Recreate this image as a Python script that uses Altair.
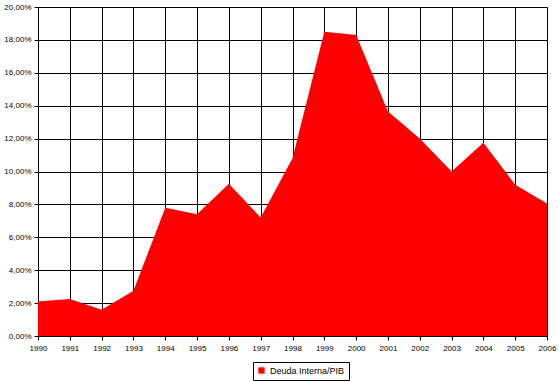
import altair as alt
import pandas as pd

years = list(range(1990, 2007))
values = [2.1, 2.25, 1.6, 2.75, 7.8, 7.4, 9.25, 7.2, 10.8, 18.5, 18.3, 13.65, 12.0, 10.0, 11.75, 9.2, 8.05]
series = ["Deuda Interna/PIB"] * len(years)

df = pd.DataFrame({"year": years, "value": [v / 100 for v in values], "series": series})

FONT = "Liberation Sans"

chart = alt.Chart(df).mark_area(color="#FF0000", opacity=1, interpolate="linear").encode(
    x=alt.X("year:Q",
            scale=alt.Scale(domain=[1990, 2006], nice=False, zero=False),
            axis=alt.Axis(title=None, values=years, format="d", grid=True,
                          gridColor="black", gridWidth=1, gridOpacity=1,
                          domainColor="black", tickColor="black", tickSize=4,
                          labelFontSize=8, labelFont=FONT, labelColor="black",
                          labelPadding=4, labelFlush=False, labelOverlap=False)),
    y=alt.Y("value:Q",
            scale=alt.Scale(domain=[0, 0.2], nice=False),
            axis=alt.Axis(title=None, values=[i / 100 for i in range(0, 21, 2)],
                          labelExpr="replace(format(datum.value, '.2%'), '.', ',')",
                          grid=True, gridColor="black", gridWidth=1, gridOpacity=1,
                          domainColor="black", tickColor="black", tickSize=4,
                          labelFontSize=8, labelFont=FONT, labelColor="black",
                          labelPadding=3, labelOverlap=False)),
    fill=alt.Fill("series:N",
                  scale=alt.Scale(domain=["Deuda Interna/PIB"], range=["#FF0000"]),
                  legend=alt.Legend(title=None, orient="none", legendX=215, legendY=355,
                                    strokeColor="black", padding=4,
                                    symbolType="square", symbolSize=40,
                                    symbolStrokeWidth=0, symbolOpacity=1,
                                    labelFontSize=9, labelFont=FONT, labelColor="black",
                                    labelOffset=4)),
).properties(
    width=509, height=329,
    autosize=alt.AutoSizeParams(type="none"),
    padding={"left": 38, "top": 7, "right": 12, "bottom": 46},
).configure_view(
    stroke="black", strokeWidth=1
).configure(background="white")

chart.save("out.html", embed_options={"renderer": "svg", "actions": False})
